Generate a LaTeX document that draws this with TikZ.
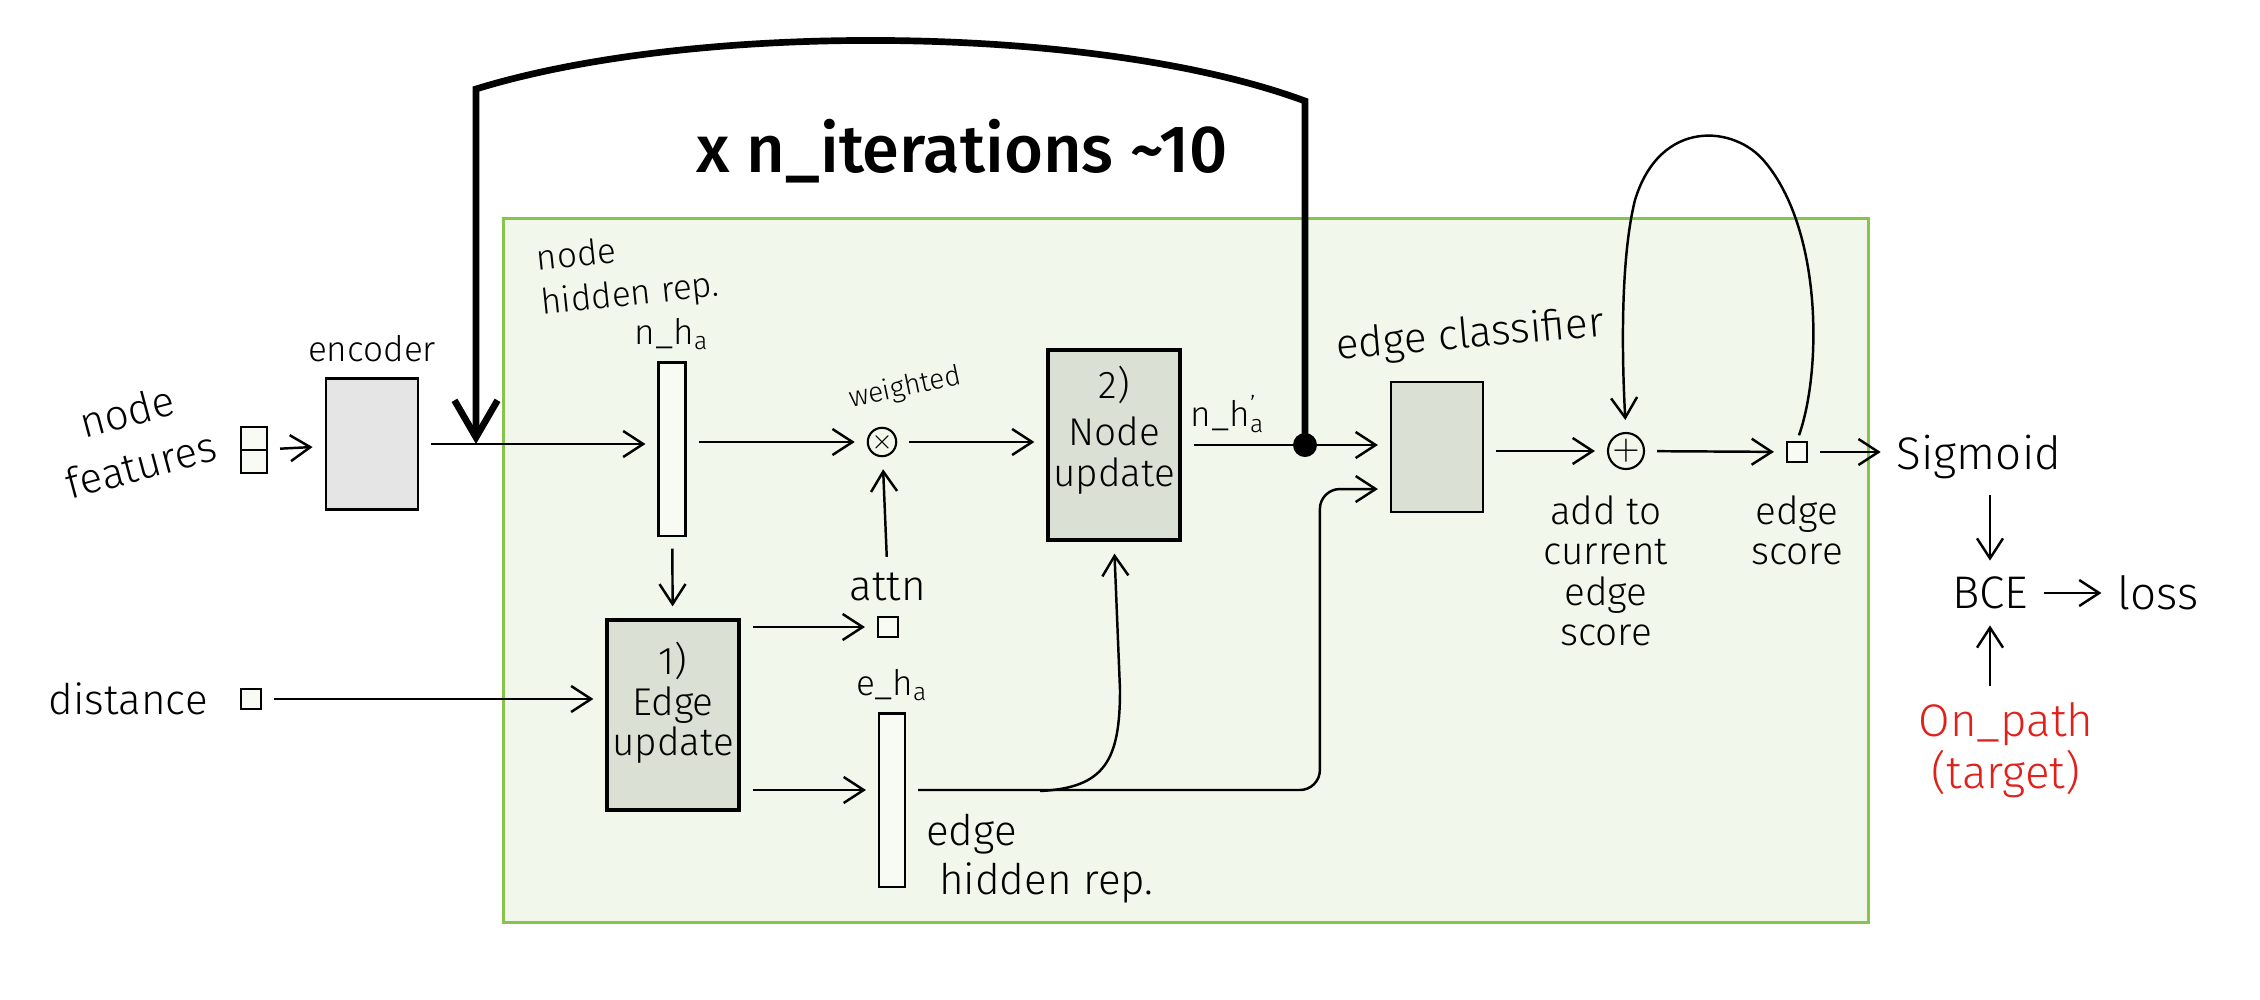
\documentclass[tikz,border=0pt]{standalone}
\usepackage{fontspec}
\setmainfont{Fira Sans}[UprightFont={* Light}, BoldFont={* Medium}]
\usepackage{tikz}
\usetikzlibrary{arrows.meta, positioning, shapes.geometric}

\definecolor{panelfill}{HTML}{F1F7EA}
\definecolor{panelline}{HTML}{86C44C}
\definecolor{encfill}{HTML}{E5E5E5}
\definecolor{blockfill}{HTML}{DAE0D3}
\definecolor{vecfill}{HTML}{F8FBF3}
\definecolor{targetred}{HTML}{E0201B}

\begin{document}
\begin{tikzpicture}[
		x=0.01cm, y=-0.01cm,
		>={Straight Barb[length=2mm, width=2.6mm]},
		% handwritten looking labels
		hand/.style={
			font=\fontsize{#1}{#1}\linespread{1.05}\selectfont,
			align=center,
			inner sep=1pt
		},
		hand/.default=12,
		% grey processing blocks
		block/.style 2 args={
			draw,
			fill=blockfill,
			line width=0.9pt,
			minimum width=#1,
			minimum height=#2,
			inner sep=0pt
		},
		% thin hidden-state vectors
		vec/.style 2 args={
			draw,
			fill=vecfill,
			line width=0.6pt,
			minimum width=#1,
			minimum height=#2,
			inner sep=0pt
		},
		tiny/.style={draw, fill=vecfill, line width=0.6pt, minimum size=0.2cm, inner sep=0pt},
		op/.style={draw, circle, line width=0.6pt, inner sep=0pt, minimum size=#1},
		conn/.style={->, line width=0.7pt, shorten <=1.2mm, shorten >=1.2mm},
		loopline/.style={line width=1.9pt, -{Straight Barb[length=3.7mm, width=4.3mm]}}
		]
		\useasboundingbox (0,0) rectangle (2260,1000);
		
		% --- PANEL ---
		\node[draw=panelline, fill=panelfill, line width=0.8pt, minimum width=13.64cm, minimum height=7.03cm] (panel) at (1186,570.5) {};
		
		% --- INPUTS ---
		\node[vec={0.26cm}{0.46cm}] (feat) at (254,450) {};
		\draw[line width=0.6pt] (feat.west) -- (feat.east);
		\node[hand=12, rotate=15, font=\fontsize{12}{12}\linespread{1.3}\selectfont] (featlbl) at (134,438) {node\\features};
		
		\node[tiny] (dist) at (251,699) {};
		\node[hand=12, left=8pt of dist] (distlbl) {distance};
		
		\node[draw, fill=encfill, line width=0.8pt, minimum width=0.92cm, minimum height=1.31cm] (enc) at (372,444) {};
		\node[hand=10, above=3pt of enc] (enclbl) {encoder};
		
		% --- NODE / EDGE UPDATES ---
		\node[vec={0.27cm}{1.73cm}] (nh) at (672,449) {};
		\node[hand=10, above=2pt of nh] (nhlbl) {n\_h\textsubscript{a}};
		\node[hand=10, align=left, rotate=6, font=\fontsize{10}{10}\linespread{1.25}\selectfont] (nhrep) at (628,274) {node\\hidden rep.};
		
		\node[block={1.32cm}{1.90cm}] (eup) at (673,715) {};
		\node[hand=11] at ([yshift=1.2mm]eup.center) {1)\\Edge\\update};
		
		\node[tiny] (attn) at (888,627) {};
		\node[hand=12, above=3pt of attn] (attnlbl) {attn};
		
		\node[op=0.28cm] (mul) at (882,442) {\scriptsize$\times$};
		\node[hand=8, rotate=12] (wlbl) at (905,388) {weighted};
		
		\node[block={1.32cm}{1.90cm}] (nup) at (1114,445) {};
		\node[hand=11] at ([yshift=1.5mm]nup.center) {2)\\[2pt]Node\\update};
		\node[hand=10] (nh2lbl) at (1228,414) {n\_h\rlap{\textsuperscript{'}}\textsubscript{a}};
		
		\node[vec={0.26cm}{1.73cm}] (eh) at (892,800) {};
		\node[hand=10, above=2pt of eh] (ehlbl) {e\_h\textsubscript{a}};
		\node[hand=12, align=left, anchor=north west, font=\fontsize{12}{12}\linespread{1.15}\selectfont] (ehrep) at (922,810) {edge\\\hspace*{1.3mm}hidden rep.};
		
		% --- EDGE CLASSIFIER AND SCORE ---
		\node[block={0.92cm}{1.30cm}, line width=0.6pt] (cls) at (1437,447) {};
		\node[hand=12, rotate=5] (clslbl) at (1470,336) {edge classifier};
		
		\node[op=0.36cm] (add) at (1626,451) {$+$};
		\node[hand=11, below=6pt of add, xshift=-2mm] (addlbl) {add to\\current\\edge\\score};
		
		\node[tiny] (esc) at (1797,452) {};
		\node[hand=11, below=8pt of esc] (esclbl) {edge\\score};
		
		% --- LOSS ---
		\node[hand=13] (sig) at (1979,457) {Sigmoid};
		\node[hand=13] (bce) at (1990,593) {BCE};
		\node[hand=13] (loss) at (2158,593) {loss};
		\node[hand=13, text=targetred, font=\fontsize{13}{13}\linespread{1.15}\selectfont] (tgt) at (2006,750) {On\_path\\(target)};
		
		\node[hand=19, font=\fontsize{19}{19}\selectfont\bfseries] (iters) at (962,151) {x n\_iterations \textasciitilde 10};
		
		% --- CONNECTIONS ---
		\coordinate (merge) at (476,444);
		\coordinate (fork) at (1305,445);
		\coordinate (split) at (1040,791);
		\path ([yshift=1mm]eh.west) coordinate (ehin);
		\path ([yshift=-4.2mm]cls.west) coordinate (clsin);
		
		\draw[conn] (feat) -- (enc);
		\draw[conn] (enc.east) -- (enc.east -| nh.west);
		\draw[conn] (nh.east |- mul) -- (mul);
		\draw[conn] (mul) -- (mul -| nup.west);
		\draw[conn] (nup.east) -- (nup.east -| cls.west);
		\fill (fork) circle[radius=1.2mm];
		
		\draw[conn] (nh) -- (eup);
		\draw[conn] (dist) -- (dist -| eup.west);
		\draw[conn] (eup.east |- attn) -- (attn);
		\draw[conn] (attnlbl) -- (mul);
		\draw[conn] (eup.east |- ehin) -- (ehin);
		\draw[conn, rounded corners=2mm] (eh.east |- ehin) -| ([xshift=-7mm]clsin) -- (clsin);
		\draw[conn, shorten <=0pt] (split) .. controls (1105,788) and (1120,760) .. (1120,690) -- (nup.south);
		
		\draw[conn] (cls.east |- add) -- (add);
		\draw[conn] (add) -- (esc);
		\draw[conn, shorten <=0.6mm] (esc.north) .. controls (1822,370) and (1822,230) .. (1765,162) .. controls (1735,125) and (1660,118) .. (1635,200) .. controls (1620,260) and (1622,360) .. (add.north);
		\draw[conn] (esc) -- (esc -| sig.west);
		\draw[conn] (sig.south -| bce) -- (bce);
		\draw[conn] (bce) -- (loss);
		\draw[conn] (tgt.north -| bce) -- (bce);
		
		% outer iteration loop
		\draw[loopline] (fork) -- (1305,101) .. controls (1100,25) and (700,20) .. (476,89) -- (merge);
		
	\end{tikzpicture}
\end{document}
